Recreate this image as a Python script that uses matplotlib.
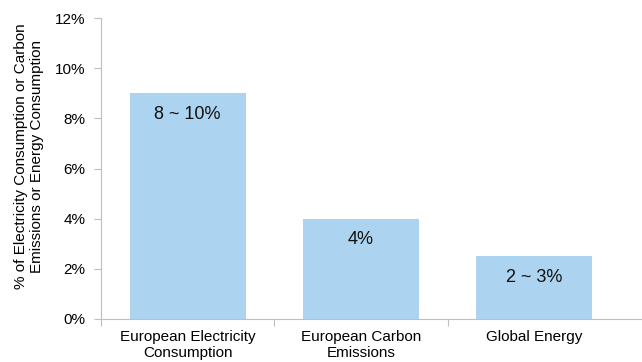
import matplotlib.pyplot as plt
from matplotlib.ticker import FuncFormatter

categories = ['European Electricity\nConsumption', 'European Carbon\nEmissions', 'Global Energy']
values = [9, 4, 2.5]
bar_labels = ['8 ~ 10%', '4%', '2 ~ 3%']

plt.rcParams['font.family'] = ['Liberation Sans', 'DejaVu Sans']
grey = '#BFBFBF'

fig = plt.figure(figsize=(6.42, 3.62), dpi=100)
ax = fig.add_axes([101 / 642, 1 - 319 / 362, 541 / 642, 301 / 362])

x = list(range(len(categories)))
ax.bar(x, values, width=0.67, color='#ACD3EF')
for i, v in enumerate(values):
    ax.annotate(bar_labels[i], (x[i], v), xytext=(0, -15), textcoords='offset points',
                ha='center', va='center', fontsize=13, color='#111111')

ax.set_xlim(-0.5, 2.5 + 21 * 3 / 520)
ax.set_ylim(0, 12)
ax.set_yticks(range(0, 13, 2))
ax.yaxis.set_major_formatter(FuncFormatter(lambda v, p: '{:d}%'.format(int(v))))
ax.set_xticks([-0.5, 0.5, 1.5])
ax.set_xticklabels([])
ax.set_xticks(x, minor=True)
ax.set_xticklabels(categories, minor=True, fontsize=11)
ax.tick_params(axis='x', which='minor', length=0, pad=8)
ax.tick_params(axis='x', which='major', length=5, color=grey, direction='out')
ax.tick_params(axis='y', length=5, color=grey, labelsize=11, pad=6)

for s in ['top', 'right']:
    ax.spines[s].set_visible(False)
for s in ['left', 'bottom']:
    ax.spines[s].set_color(grey)

ax.set_ylabel('% of Electricity Consumption or Carbon\nEmissions or Energy Consumption', fontsize=11)
ax.yaxis.set_label_coords(-0.105, 0.54)

fig.savefig('out.png', dpi=100)
